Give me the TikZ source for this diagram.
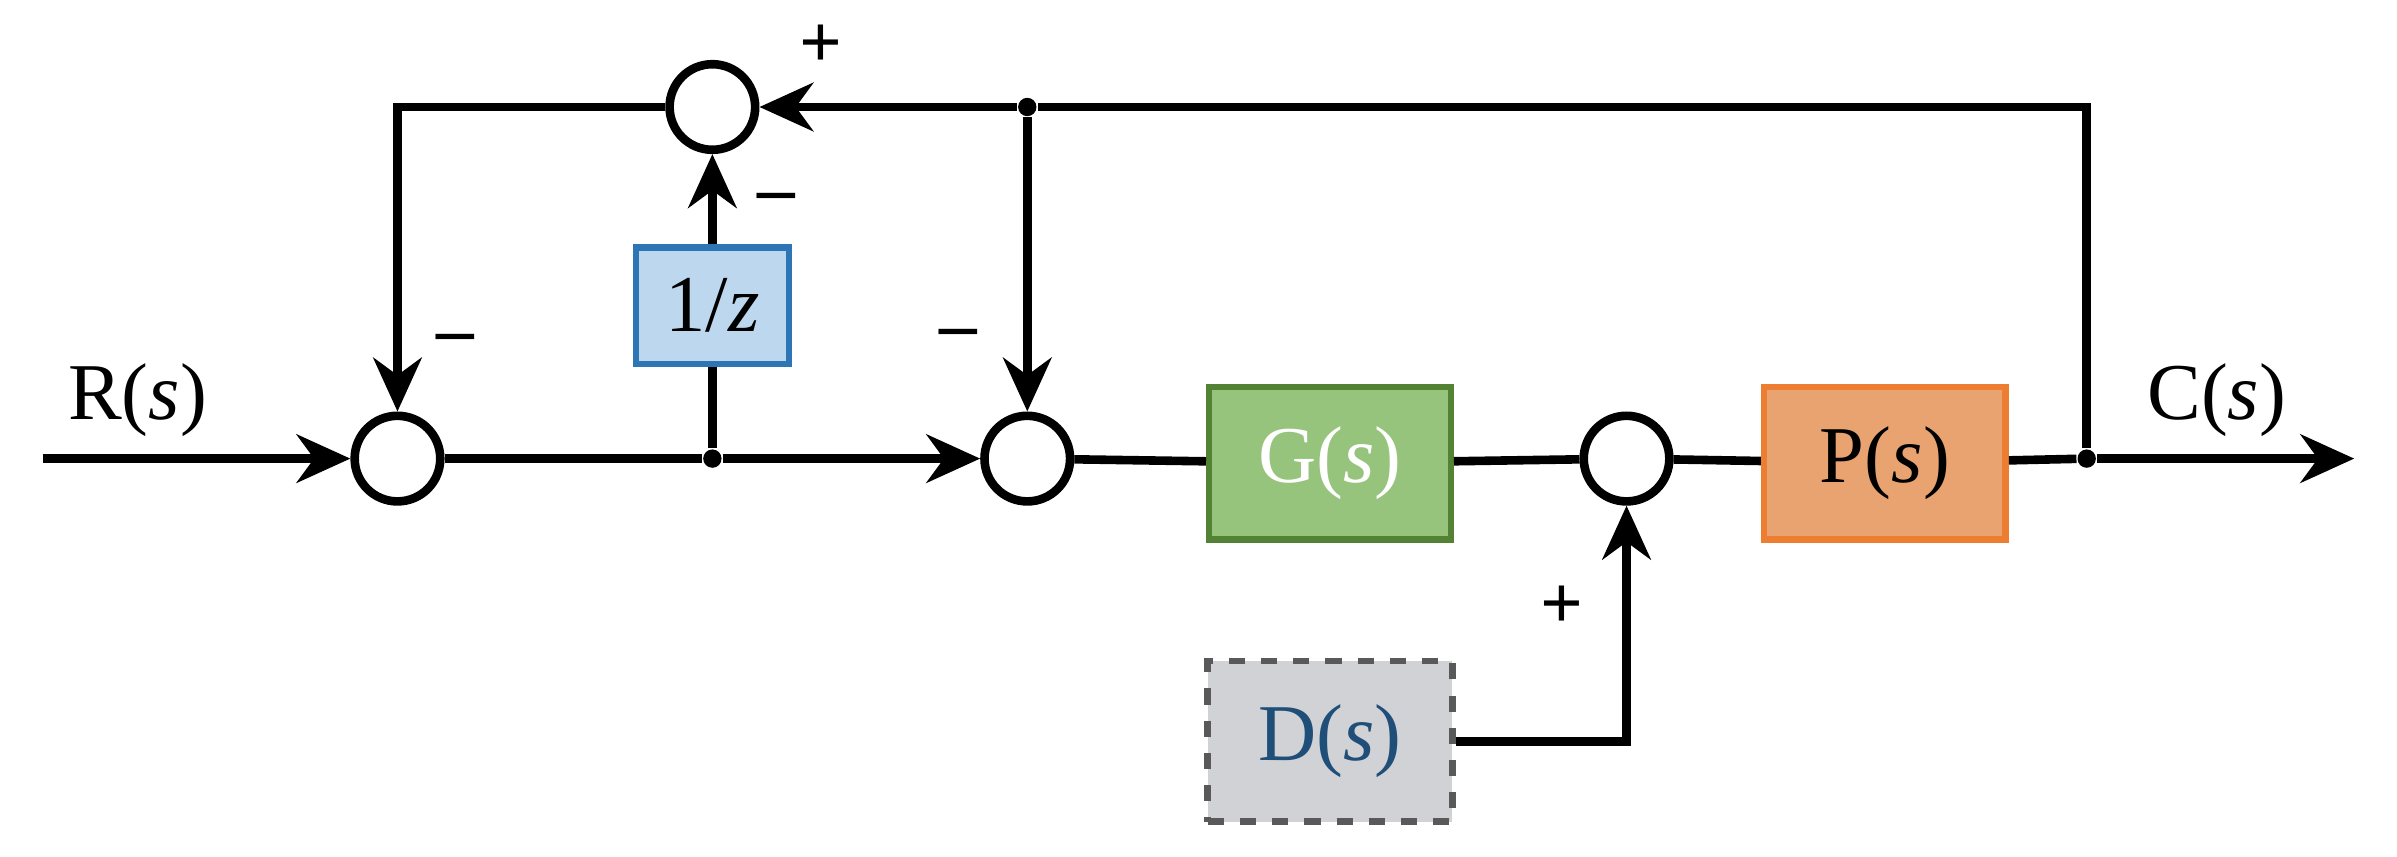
\documentclass[tikz,border=0pt]{standalone}
\usepackage{fontspec}
\setmainfont{Liberation Serif}
\usetikzlibrary{positioning, arrows.meta}

\definecolor{zfill}{RGB}{189,215,238}
\definecolor{zline}{RGB}{46,117,182}
\definecolor{gfill}{RGB}{151,196,124}
\definecolor{gline}{RGB}{84,130,53}
\definecolor{pfill}{RGB}{232,163,112}
\definecolor{pline}{RGB}{237,125,49}
\definecolor{dfill}{RGB}{208,210,213}
\definecolor{dline}{RGB}{89,89,89}
\definecolor{dtext}{RGB}{31,78,121}

\tikzset{
  sum/.style = {circle, draw, line width=1.6pt, minimum size=0.56cm, inner sep=0pt},
  blk/.style = {rectangle, draw, line width=1.2pt, minimum width=1.58cm, minimum height=1cm, font=\fontsize{15}{17}\selectfont},
  dot/.style = {circle, fill, minimum size=0.12cm, inner sep=0pt},
  sig/.style = {line width=1.6pt, -{Stealth[length=10pt, width=9pt]}},
  wire/.style = {line width=1.6pt},
  lbl/.style = {font=\fontsize{15}{17}\selectfont},
  sgn/.style = {font=\fontsize{14}{16}\selectfont\bfseries}
}

\begin{document}
\begin{tikzpicture}
\useasboundingbox (0,0) rectangle (15.68,5.6);
% summing junctions
\node[sum] (s1) at (2.60,2.60) {};
\node[sum] (s2) at (4.66,4.90) {};
\node[sum] (s3) at (6.72,2.60) {};
\node[sum] (s4) at (10.64,2.60) {};
% blocks
\node[blk, fill=zfill, draw=zline, minimum width=1cm, minimum height=0.76cm] (z) at (4.66,3.60) {1/\textit{z}};
\node[blk, fill=gfill, draw=gline, text=white] (g) at (8.70,2.57) {G(\textit{s})};
\node[blk, fill=pfill, draw=pline] (p) at (12.33,2.57) {P(\textit{s})};
\node[blk, fill=dfill, draw=dline, dashed, text=dtext, minimum width=1.6cm, minimum height=1.05cm] (d) at (8.70,0.75) {D(\textit{s})};
% branch points
\node[dot] (b1) at (4.66,2.60) {};
\node[dot] (b2) at (6.72,4.90) {};
\node[dot] (b3) at (13.65,2.60) {};
\coordinate (in) at (0.28,2.60);
\coordinate (out) at (15.40,2.60);
\coordinate (tl) at (2.60,4.90);
\coordinate (tr) at (13.65,4.90);
\coordinate (dr) at (10.64,0.75);
% connectors
\draw[sig] (in) -- (s1);
\draw[wire] (s1) -- (b1);
\draw[sig] (b1) -- (s3);
\draw[wire] (b1) -- (z);
\draw[sig] (z) -- (s2);
\draw[wire] (s3) -- (g);
\draw[wire] (g) -- (s4);
\draw[wire] (s4) -- (p);
\draw[wire] (p) -- (b3);
\draw[sig] (b3) -- (out);
\draw[wire] (b3) -- (tr) -- (b2);
\draw[sig] (b2) -- (s2);
\draw[sig] (b2) -- (s3);
\draw[sig] (s2) -- (tl) -- (s1);
\draw[sig] (d) -- (dr) -- (s4);
% labels
\node[lbl] (rl) at (0.90,2.98) {R(\textit{s})};
\node[lbl] (cl) at (14.50,2.98) {C(\textit{s})};
\node[sgn] (p1) at (5.37,5.30) {+};
\node[sgn] (m1) at (5.08,4.27) {\textendash};
\node[sgn] (m2) at (2.98,3.35) {\textendash};
\node[sgn] (m3) at (6.27,3.38) {\textendash};
\node[sgn] (p2) at (10.22,1.63) {+};
\end{tikzpicture}
\end{document}
